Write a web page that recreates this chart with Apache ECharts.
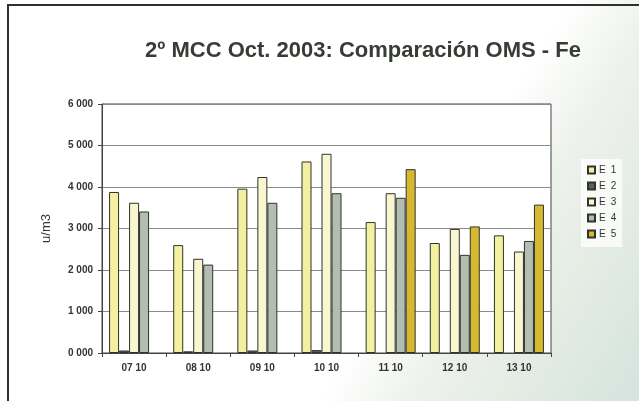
<!DOCTYPE html>
<html>
<head>
<meta charset="utf-8">
<script src="https://cdn.jsdelivr.net/npm/echarts@6/dist/echarts.min.js"></script>
<style>
  html, body { margin: 0; padding: 0; background: #fff; }
  #chart { width: 639px; height: 401px; }
</style>
</head>
<body>
<div id="chart"></div>
<script>
// Sampling days (day month)
const categories = ['07 10', '08 10', '09 10', '10 10', '11 10', '12 10', '13 10'];

// Fe readings per station, u/m3
const e1 = [3880, 2600, 3960, 4615, 3155, 2650, 2835];
const e2 = [60, 40, 60, 70, null, null, null];
const e3 = [3620, 2270, 4240, 4800, 3850, 2990, 2445];
const e4 = [3410, 2130, 3620, 3850, 3740, 2365, 2700];
const e5 = [null, null, null, null, 4430, 3050, 3575];

const seriesNames = ['E 1', 'E 2', 'E 3', 'E 4', 'E 5'];
const seriesValues = [e1, e2, e3, e4, e5];
const seriesColors = ['#f4f0a2', '#5b6155', '#f8f7cf', '#b3bdb1', '#d8b830'];

const yTicks = { min: 0, max: 6000, step: 1000 };

function thousands(v) {
  const k = Math.floor(v / 1000);
  const r = String(v % 1000).padStart(3, '0');
  return k + ' ' + r;
}

const chart = echarts.init(document.getElementById('chart'), null, { renderer: 'canvas' });

chart.setOption({
  animation: false,
  backgroundColor: {
    type: 'linear', x: 0, y: 0, x2: 1, y2: 1,
    colorStops: [
      { offset: 0, color: '#ffffff' },
      { offset: 0.64, color: '#ffffff' },
      { offset: 0.74, color: '#eef2ec' },
      { offset: 0.87, color: '#e2ebe3' },
      { offset: 1, color: '#d3e4de' }
    ]
  },
  graphic: [
    {
      type: 'rect',
      shape: { x: 8, y: 5, width: 700, height: 500 },
      style: { fill: 'none', stroke: '#2e322e', lineWidth: 2 },
      silent: true
    }
  ],
  title: {
    text: '2º MCC Oct. 2003: Comparación OMS - Fe',
    left: 358, top: 35, textAlign: 'center',
    textStyle: { fontFamily: 'Liberation Sans, Arial, sans-serif', fontSize: 22, fontWeight: 'bold', color: '#373c34' }
  },
  legend: {
    orient: 'vertical',
    left: 581, top: 159,
    padding: [6, 6, 8, 6],
    backgroundColor: 'rgba(255,255,255,0.75)',
    itemWidth: 7, itemHeight: 7, itemGap: 6,
    icon: 'rect',
    data: seriesNames,
    formatter: name => name.replace(' ', '\u2002'),
    textStyle: { fontFamily: 'Liberation Sans, Arial, sans-serif', fontSize: 10, color: '#333', padding: [0, 0, 0, -1] }
  },
  grid: {
    left: 102, right: 88, top: 104, bottom: 48,
    show: true, backgroundColor: '#ffffff', borderColor: '#444', borderWidth: 1
  },
  xAxis: {
    type: 'category',
    data: categories,
    axisLine: { lineStyle: { color: '#444' } },
    axisTick: { show: true, length: 4, lineStyle: { color: '#444' } },
    axisLabel: { margin: 10, fontFamily: 'Liberation Sans, Arial, sans-serif', fontSize: 10, fontWeight: 'bold', color: '#333' }
  },
  yAxis: {
    type: 'value',
    min: yTicks.min, max: yTicks.max, interval: yTicks.step,
    name: 'u/m3',
    nameLocation: 'middle',
    nameGap: 49,
    nameTextStyle: { fontFamily: 'Liberation Sans, Arial, sans-serif', fontSize: 13, color: '#333' },
    axisLine: { show: true, lineStyle: { color: '#444' } },
    axisTick: { show: true, length: 4, lineStyle: { color: '#444' } },
    splitLine: { lineStyle: { color: '#8a8a8a', width: 1 } },
    axisLabel: {
      margin: 9,
      formatter: thousands,
      fontFamily: 'Liberation Sans, Arial, sans-serif', fontSize: 10, fontWeight: 'bold', color: '#333'
    }
  },
  series: seriesNames.map((name, i) => ({
    name,
    type: 'bar',
    data: seriesValues[i],
    barWidth: 10,
    barGap: '0%',
    itemStyle: { color: seriesColors[i], borderColor: '#2f332c', borderWidth: 1 }
  }))
});
</script>
</body>
</html>
